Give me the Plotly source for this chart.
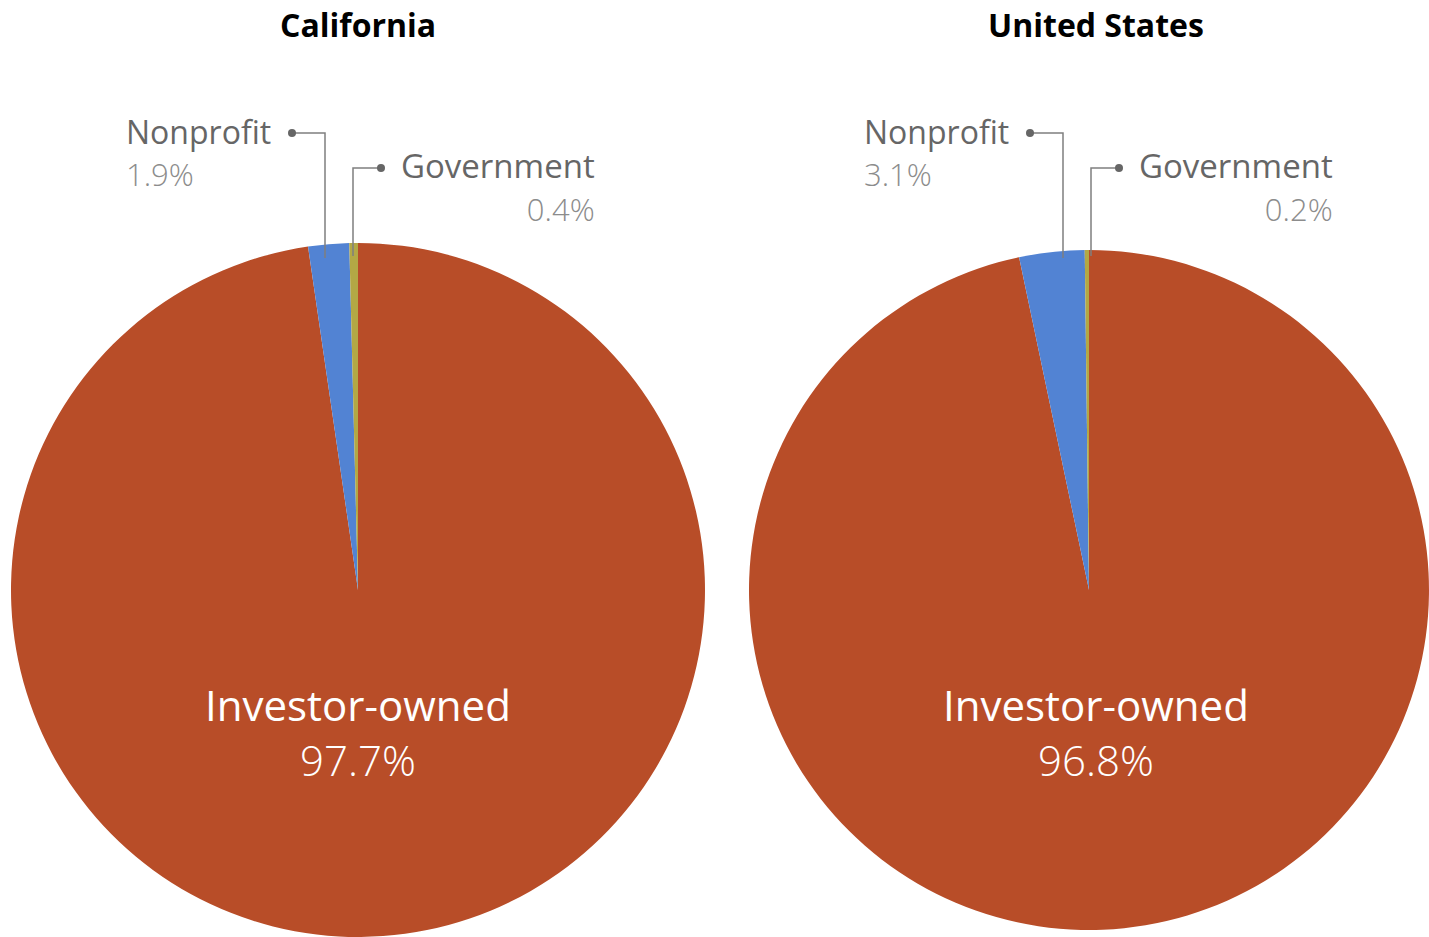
import plotly.graph_objects as go

W, H = 1429, 937

categories = ["Investor-owned", "Nonprofit", "Government"]
ca_values = [97.7, 1.9, 0.4]
us_values = [96.8, 3.1, 0.2]
titles = ["California", "United States"]
colors = ["#B84D28", "#5283D3", "#B3A845"]

def px(x):
    return x / W

def py(y):
    return 1 - y / H

fig = go.Figure()
fig.add_trace(go.Pie(
    labels=categories, values=ca_values, sort=False, direction="clockwise",
    rotation=0, marker=dict(colors=colors, line=dict(width=0)),
    textinfo="none", hoverinfo="label+percent",
    domain=dict(x=[px(11), px(705)], y=[0, py(243)]), showlegend=False,
))
fig.add_trace(go.Pie(
    labels=categories, values=us_values, sort=False, direction="clockwise",
    rotation=0, marker=dict(colors=colors, line=dict(width=0)),
    textinfo="none", hoverinfo="label+percent",
    domain=dict(x=[px(749), 1], y=[0, py(243)]), showlegend=False,
))

FONT = "Open Sans"
name_col = "#666666"
pct_col = "#8C8C8C"

ann = []
shapes = []

def span(s, color, size, weight=400):
    return f"<span style='font-weight:{weight};color:{color};font-size:{size}px'>{s}</span>"

def add_panel(cx, title, values, dx):
    ann.append(dict(x=px(cx), y=py(25), text="<b>" + title + "</b>", showarrow=False,
                    xanchor="center", yanchor="middle",
                    font=dict(family=FONT, size=32, color="#000000")))
    # inside label
    ann.append(dict(x=px(cx), y=py(732), showarrow=False,
                    text=categories[0] + "<br>" + span(f"{values[0]}%", "white", 42, 300),
                    xanchor="center", yanchor="middle", align="center",
                    font=dict(family=FONT, size=42, color="white")))
    # Nonprofit
    ann.append(dict(x=px(124 + dx), y=py(152), showarrow=False,
                    text=categories[1] + "<br>" + span(f"{values[1]}%", pct_col, 31, 300),
                    xanchor="left", yanchor="middle", align="left",
                    font=dict(family=FONT, size=32, color=name_col)))
    # Government
    ann.append(dict(x=px(597 + dx), y=py(186), showarrow=False,
                    text=categories[2] + "<br>" + span(f"{values[2]}%", pct_col, 31, 300),
                    xanchor="right", yanchor="middle", align="right",
                    font=dict(family=FONT, size=33, color=name_col)))
    # leader lines
    lc = "#7F7F7F"
    shapes.append(dict(type="path", xref="paper", yref="paper",
                       path=f"M {px(292+dx)} {py(133)} L {px(325+dx)} {py(133)} L {px(325+dx)} {py(258)}",
                       line=dict(color=lc, width=1.5)))
    shapes.append(dict(type="path", xref="paper", yref="paper",
                       path=f"M {px(381+dx)} {py(168)} L {px(353+dx)} {py(168)} L {px(353+dx)} {py(256)}",
                       line=dict(color=lc, width=1.5)))
    for (x, y) in [(292 + dx, 133), (381 + dx, 168)]:
        shapes.append(dict(type="circle", xref="paper", yref="paper",
                           x0=px(x - 4), x1=px(x + 4), y0=py(y + 4), y1=py(y - 4),
                           fillcolor="#666666", line=dict(width=0)))

add_panel(358, titles[0], ca_values, 0)
add_panel(1096, titles[1], us_values, 738)

fig.update_layout(
    width=W, height=H, margin=dict(l=0, r=0, t=0, b=0),
    paper_bgcolor="white", plot_bgcolor="white",
    annotations=ann, shapes=shapes,
)

fig.write_html("out.html", config={"displayModeBar": False},
               post_script="document.body.style.margin='0px';")
